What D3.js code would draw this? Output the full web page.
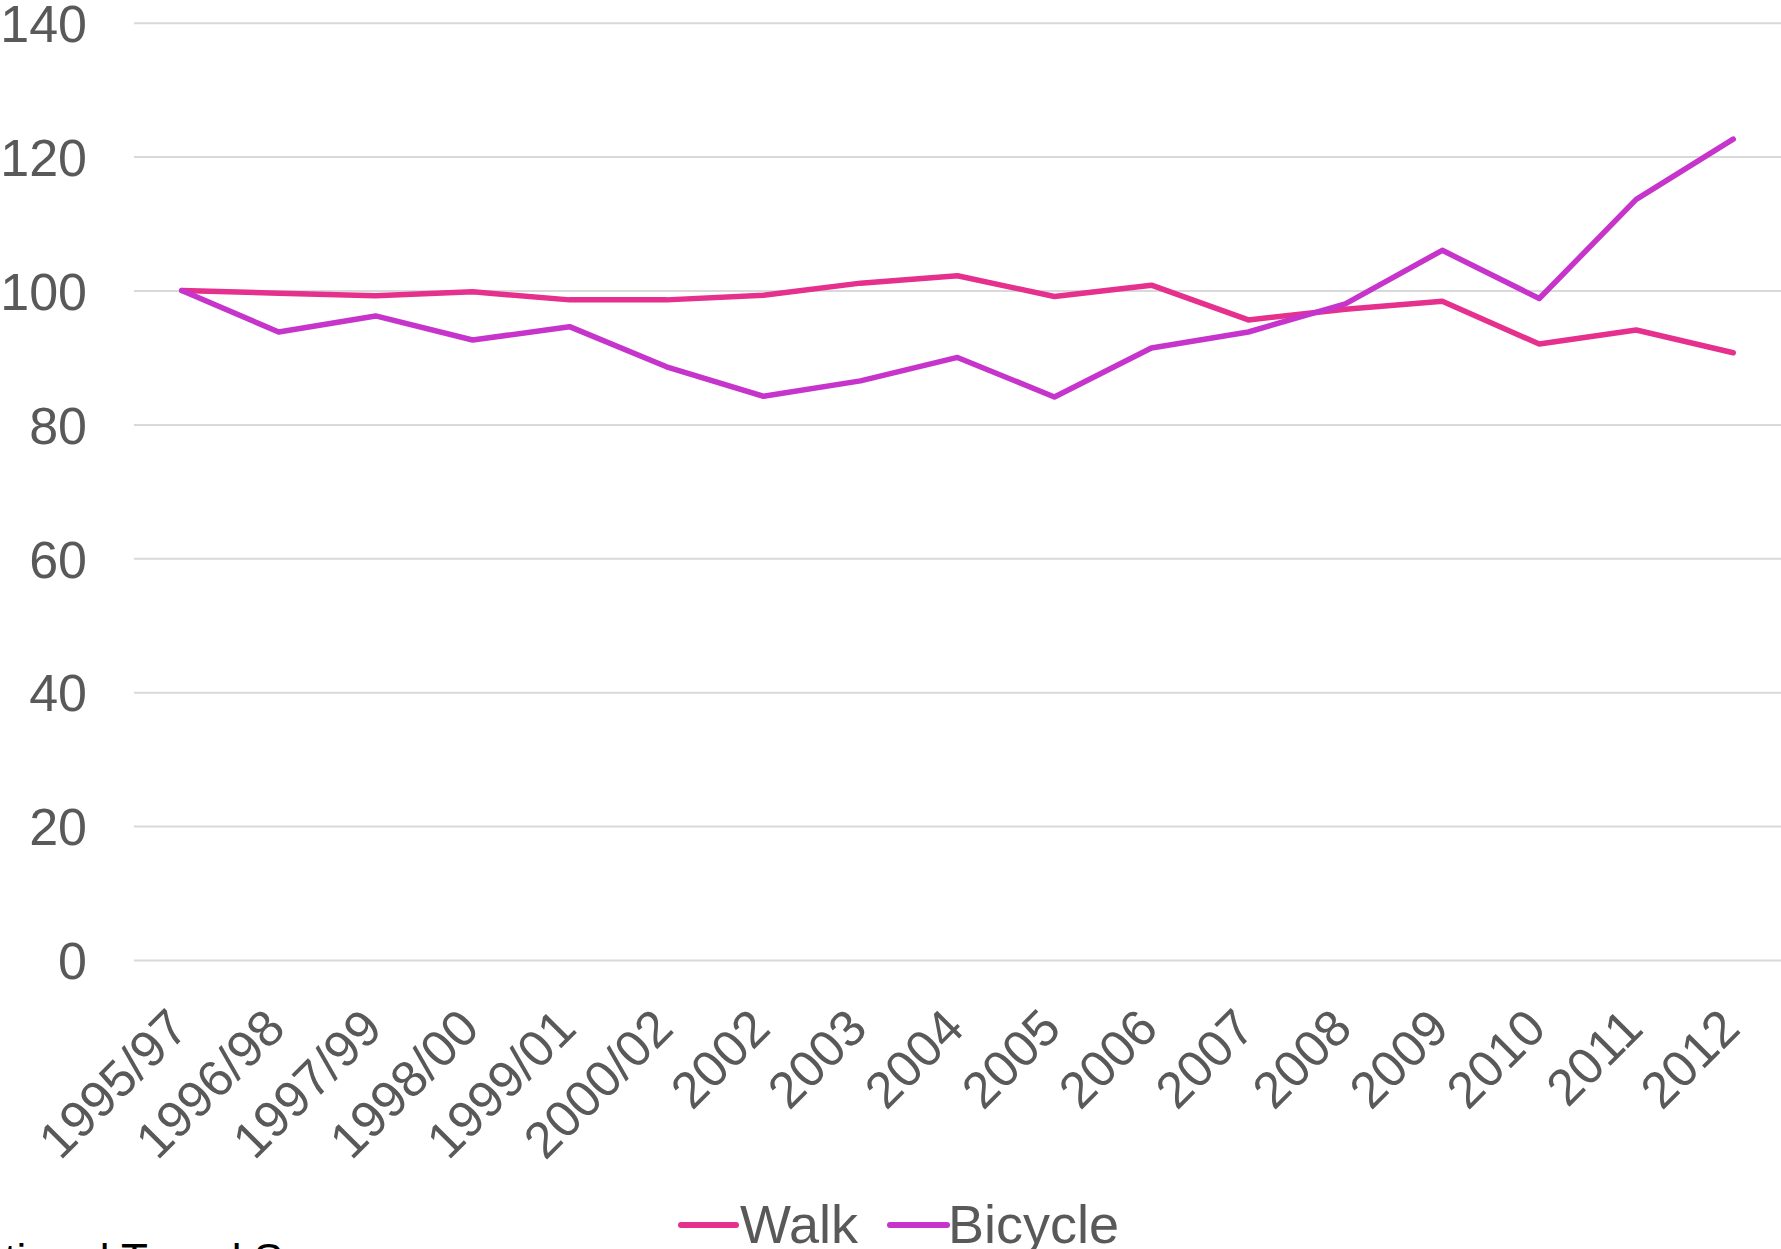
<!DOCTYPE html>
<html>
<head>
<meta charset="utf-8">
<script src="https://cdn.jsdelivr.net/npm/d3@7"></script>
<style>
  html, body { margin: 0; padding: 0; background: #ffffff; overflow: hidden; }
  svg { display: block; }
  text { font-family: "Liberation Sans", Arial, sans-serif; }
</style>
</head>
<body>
<svg id="chart" width="1781" height="1249"></svg>
<script>
// ---- data ----
const categories = ["1995/97","1996/98","1997/99","1998/00","1999/01","2000/02","2002","2003","2004","2005","2006","2007","2008","2009","2010","2011","2012"];
const walk    = [100, 99.6, 99.2, 99.8, 98.6, 98.6, 99.3, 101.1, 102.2, 99.1, 100.8, 95.6, 97.2, 98.4, 92.0, 94.1, 90.7];
const bicycle = [100, 93.8, 96.2, 92.6, 94.6, 88.6, 84.2, 86.5, 90.0, 84.1, 91.4, 93.8, 98.0, 106.0, 98.8, 113.6, 122.6];
const yTicks = [0, 20, 40, 60, 80, 100, 120, 140];
const seriesNames = ["Walk", "Bicycle"];
const sourceText = "National Travel Survey";

// ---- layout ----
const W = 1781, H = 1249;
const gridLeft = 134, gridRight = 1781;
const colors = { Walk: "#E5308E", Bicycle: "#C634CB" };
const textColor = "#595959";

const svg = d3.select("#chart");

const x = d3.scalePoint().domain(categories).range([181.7, 1733.2]);
const y = d3.scaleLinear().domain([0, 140]).range([960, 22.7]);

// y axis with gridlines
const yAxis = d3.axisLeft(y)
  .tickValues(yTicks)
  .tickSize(-(gridRight - gridLeft))
  .tickPadding(47)
  .tickFormat(d3.format("d"));

const gy = svg.append("g")
  .attr("transform", `translate(${gridLeft},0)`)
  .call(yAxis);
gy.select(".domain").remove();
gy.selectAll(".tick line").attr("stroke", "#D9D9D9").attr("stroke-width", 2);
gy.selectAll(".tick text")
  .attr("fill", textColor)
  .attr("font-size", 52)
  .attr("dy", "0.36em")
  .style("font-family", '"Liberation Sans", Arial, sans-serif');

// x axis labels (rotated)
const xAxis = d3.axisBottom(x).tickSize(0).tickPadding(0);
const gx = svg.append("g")
  .call(xAxis);
gx.select(".domain").remove();
gx.selectAll(".tick").attr("transform", d => `translate(${x(d) + 9},1031)`);
gx.selectAll(".tick text")
  .attr("fill", textColor)
  .attr("font-size", 51)
  .attr("x", 0).attr("y", 0).attr("dy", 0)
  .attr("text-anchor", "end")
  .attr("transform", "rotate(-45)")
  .style("font-family", '"Liberation Sans", Arial, sans-serif');

// lines
const line = d3.line()
  .x((d, i) => x(categories[i]))
  .y(d => y(d));

const seriesData = { Walk: walk, Bicycle: bicycle };
seriesNames.forEach(name => {
  svg.append("path")
    .datum(seriesData[name])
    .attr("fill", "none")
    .attr("stroke", colors[name])
    .attr("stroke-width", 5.5)
    .attr("stroke-linejoin", "round")
    .attr("stroke-linecap", "round")
    .attr("d", line);
});

// legend
const legendItems = [
  { name: "Walk", x1: 681, x2: 736, tx: 740 },
  { name: "Bicycle", x1: 890, x2: 947, tx: 948 }
];
const lg = svg.append("g");
legendItems.forEach(it => {
  lg.append("line")
    .attr("x1", it.x1).attr("x2", it.x2)
    .attr("y1", 1225).attr("y2", 1225)
    .attr("stroke", colors[it.name])
    .attr("stroke-width", 6)
    .attr("stroke-linecap", "round");
  lg.append("text")
    .attr("x", it.tx).attr("y", 1243)
    .attr("fill", textColor)
    .attr("font-size", 54)
    .text(it.name);
});

// source text (partially cut off at the bottom-left)
const src = svg.append("text")
  .attr("y", 1275)
  .attr("fill", "#000000")
  .attr("font-size", 44)
  .text(sourceText);
const prefixLen = src.node().getSubStringLength(0, "National ".length);
src.attr("x", 121 - prefixLen);
</script>
</body>
</html>
